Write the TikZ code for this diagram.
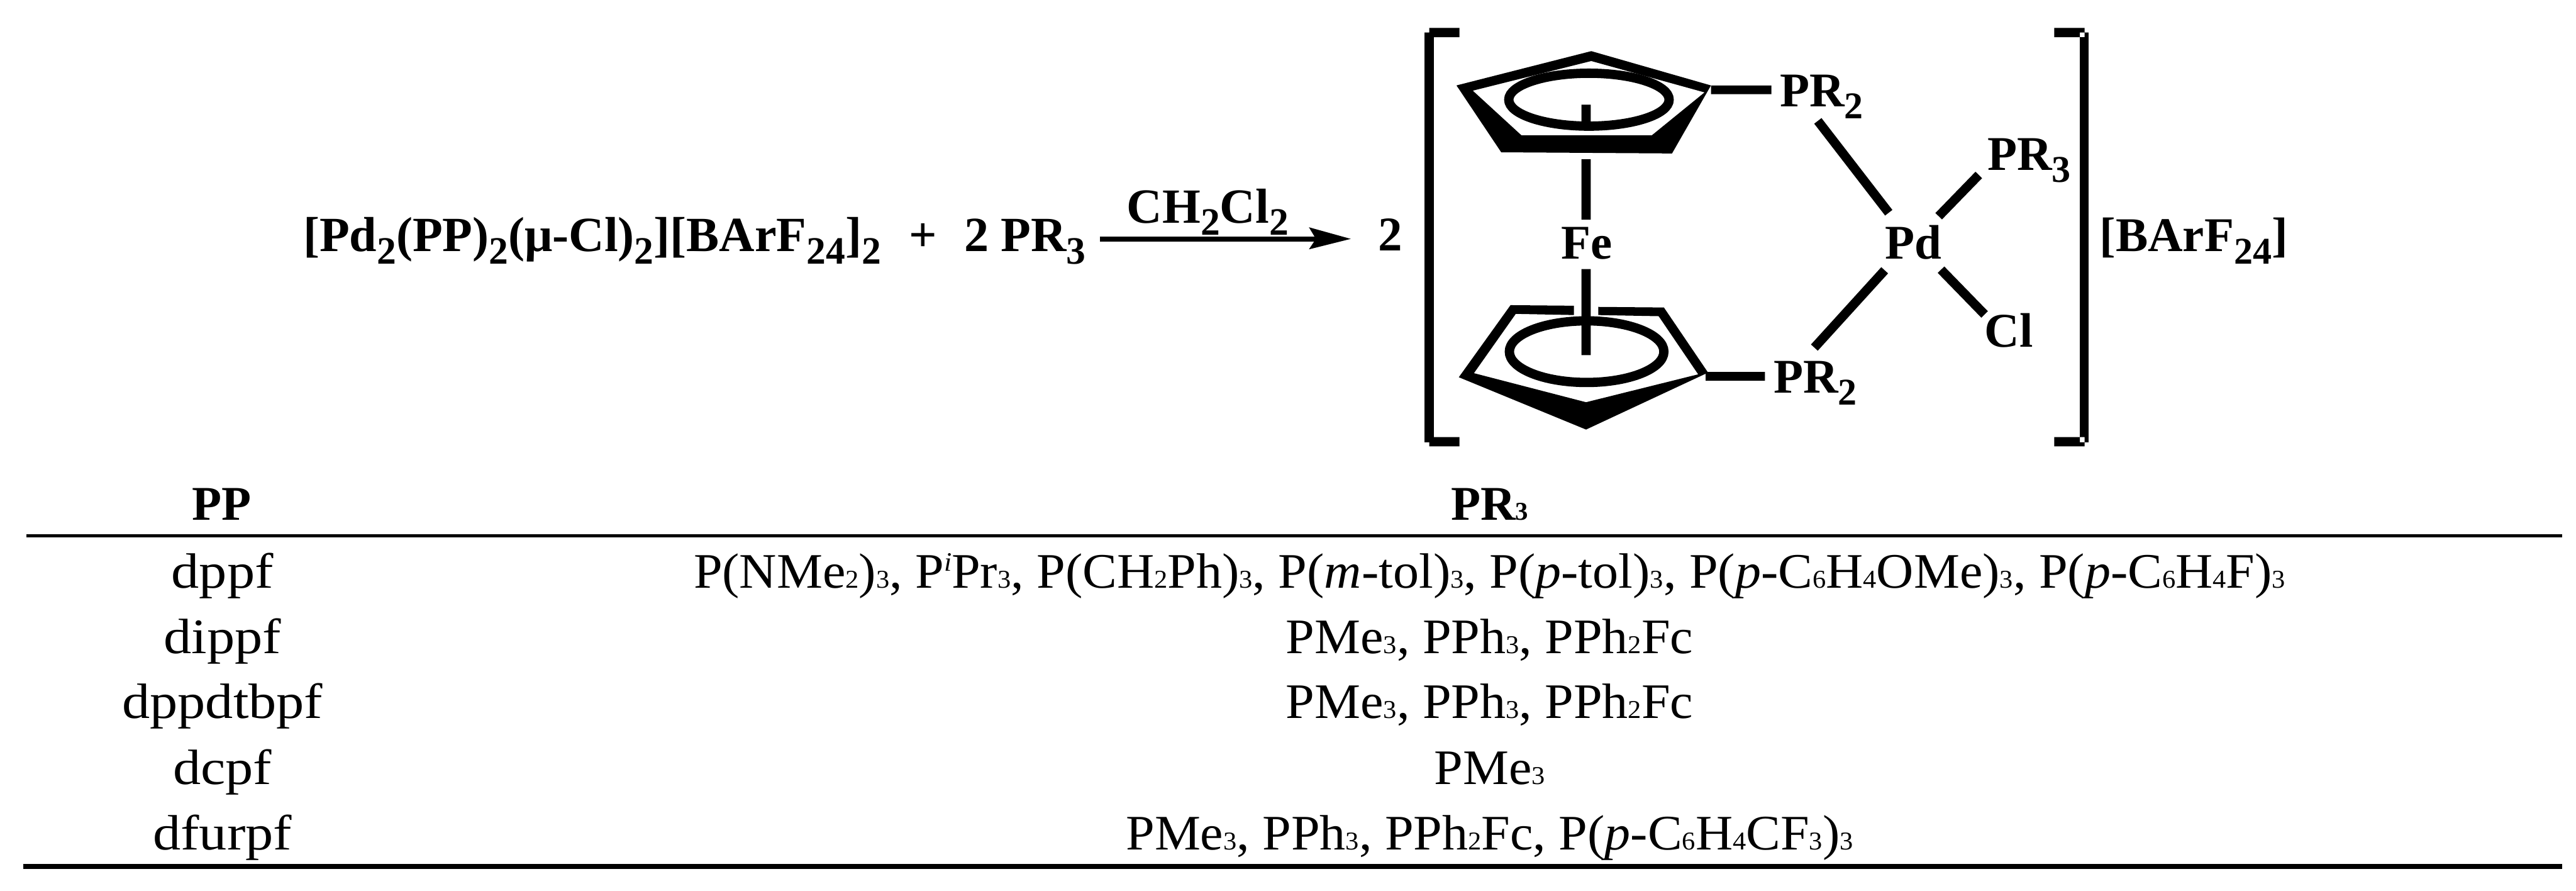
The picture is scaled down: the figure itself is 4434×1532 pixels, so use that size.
\documentclass[tikz,border=0pt]{standalone}
\usepackage{fontspec}
\setmainfont{Liberation Serif}
\newfontfamily\tabfont[FakeStretch=1.12]{Liberation Serif}
\newfontfamily\tabfontB[FakeStretch=1.04]{Liberation Serif}
\newcommand{\chemtext}{\bfseries\fontsize{20pt}{22pt}\selectfont}
\newcommand{\reactext}{\bfseries\fontsize{20.3pt}{22pt}\selectfont}
\newcommand{\tabtext}{\tabfont\fontsize{20.5pt}{24pt}\selectfont}
\newcommand{\tabtextB}{\tabfontB\fontsize{20.5pt}{24pt}\selectfont}
\newcommand{\bsub}[1]{\raisebox{-5pt}{\fontsize{15.6pt}{16pt}\selectfont #1}}
\newcommand{\rsub}[1]{\raisebox{-5pt}{\fontsize{16pt}{16pt}\selectfont #1}}
\newcommand{\tsub}[1]{{\fontsize{10.6pt}{14pt}\selectfont #1}}
\begin{document}
\begin{tikzpicture}[x=0.24pt,y=-0.24pt,
  chem/.style={inner sep=0pt,anchor=base west,font=\chemtext},
  reac/.style={inner sep=0pt,anchor=base west,font=\reactext},
  cell/.style={inner sep=0pt,anchor=base,font=\tabtext},
  cellB/.style={inner sep=0pt,anchor=base,font=\tabtextB},
  bond/.style={line width=3.8pt},
  ringline/.style={line width=3.84pt}]
\useasboundingbox (0,0) rectangle (4434,1532);
% reaction
\node[reac] (react) at (521,433) {[Pd\rsub{2}(PP)\rsub{2}(μ-Cl)\rsub{2}][BArF\rsub{24}]\rsub{2}};
\node[reac] (plus) at (1564,433) {+};
\node[reac] (two) at (1659,433) {2};
\node[reac] (pr) at (1722,433) {PR\rsub{3}};
\node[reac] (solv) at (1939,384) {CH\rsub{2}Cl\rsub{2}};
\coordinate (as) at (1893,411);
\coordinate (ae) at (2325,411);
\draw[line width=2pt] (as) -- (2270,411);
\fill (ae) -- (2253,391) -- (2265,411) -- (2253,429) -- cycle;
\node[chem] (twoB) at (2371,431) {2};
% brackets
\fill (2452,56) rectangle (2468,761) (2460,48) rectangle (2512,64) (2460,752) rectangle (2512,768);
\fill (3580,56) rectangle (3595,761) (3588,48) rectangle (3536,64) (3588,752) rectangle (3536,768);
% top ring
\fill[even odd rule] (2739,88) -- (2507,147) -- (2584,262) -- (2878,264) -- (2945,147) -- cycle
  (2739,105) -- (2535,156) -- (2619,233) -- (2843,233) -- (2934,159) -- cycle;
\draw[ringline] (2735,171.5) ellipse [x radius=138,y radius=45.5];
% bottom ring
\fill (2709,526) -- (2600,525) -- (2511,649) -- (2730,739) -- (2940,641) -- (2864,529) -- (2751,528) -- (2751,542) -- (2855,544) -- (2923,644) -- (2730,692) -- (2537,642) -- (2609,540) -- (2709,542) -- cycle;
\draw[ringline] (2731,605) ellipse [x radius=133,y radius=53];
% atoms
\node[chem] (fe) at (2686,446) {Fe};
\node[chem] (pd) at (3244,445) {Pd};
\node[chem] (ptop) at (3063,183) {PR\bsub{2}};
\node[chem] (pbot) at (3052,676) {PR\bsub{2}};
\node[chem] (pr3) at (3420,293) {PR\bsub{3}};
\node[chem] (cl) at (3415,597) {Cl};
\node[chem] (barf) at (3613,433) {[BArF\bsub{24}]};
% stem
\fill (2722,180) rectangle (2738,209) (2722,274) rectangle (2738,378) (2722,463) rectangle (2738,611);
% bonds
\fill (2945,147) rectangle (3049,162) (2936,640) rectangle (3038,655);
\draw[bond] (3129,208) -- (3251,366);
\draw[bond] (3337,372) -- (3406,301);
\draw[bond] (3244,465) -- (3123,598);
\draw[bond] (3341,464) -- (3416,541);
% table
\node[cell,font=\chemtext] (hpp) at (382,895) {PP};
\node[cell,font=\chemtext] (hpr) at (2564,895) {PR\tsub{3}};
\fill (46,919.5) rectangle (4410,925);
\fill (40,1486) rectangle (4410,1495);
\node[cell] (c1) at (383,1012) {dppf};
\node[cell] (c2) at (383,1124) {dippf};
\node[cell] (c3) at (383,1236) {dppdtbpf};
\node[cell] (c4) at (383,1349) {dcpf};
\node[cell] (c5) at (383,1462) {dfurpf};
\node[cellB] (r1) at (2564,1012) {P(NMe\tsub{2})\tsub{3}, P\raisebox{7pt}{\fontsize{11pt}{14pt}\selectfont\itshape i}Pr\tsub{3}, P(CH\tsub{2}Ph)\tsub{3}, P(\textit{m}-tol)\tsub{3}, P(\textit{p}-tol)\tsub{3}, P(\textit{p}-C\tsub{6}H\tsub{4}OMe)\tsub{3}, P(\textit{p}-C\tsub{6}H\tsub{4}F)\tsub{3}};
\node[cellB] (r2) at (2564,1124) {PMe\tsub{3}, PPh\tsub{3}, PPh\tsub{2}Fc};
\node[cellB] (r3) at (2564,1236) {PMe\tsub{3}, PPh\tsub{3}, PPh\tsub{2}Fc};
\node[cellB] (r4) at (2564,1349) {PMe\tsub{3}};
\node[cellB] (r5) at (2564,1462) {PMe\tsub{3}, PPh\tsub{3}, PPh\tsub{2}Fc, P(\textit{p}-C\tsub{6}H\tsub{4}CF\tsub{3})\tsub{3}};
\end{tikzpicture}
\end{document}
